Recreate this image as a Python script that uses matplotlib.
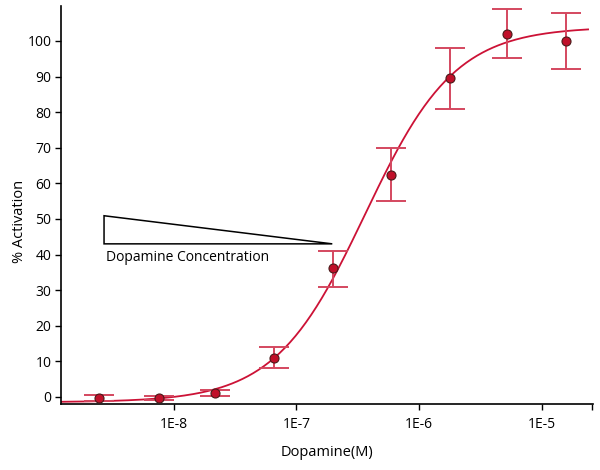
import matplotlib
matplotlib.use("Agg")
import matplotlib.pyplot as plt
import numpy as np

# log10 of dopamine concentration (M) for each measured point
log_conc = [-8.61, -8.12, -7.66, -7.18, -6.70, -6.23, -5.75, -5.28, -4.80]
activation = [-0.3, -0.3, 1.0, 10.8, 36.2, 62.4, 89.6, 102.0, 100.0]
err_low = [0.9, 0.5, 0.8, 2.8, 5.2, 7.3, 8.7, 6.9, 7.9]
err_high = [0.9, 0.5, 0.8, 3.2, 4.9, 7.6, 8.4, 6.9, 7.8]

# fitted sigmoid (Hill) parameters
fit_bottom, fit_top, fit_logec50, fit_hill = -1.5, 104.0, -6.44, 1.18

xticks = [-8, -7, -6, -5]
xticklabels = ["1E-8", "1E-7", "1E-6", "1E-5"]
yticks = list(range(0, 101, 10))

plt.rcParams['font.family'] = ['Open Sans', 'DejaVu Sans']

fig = plt.figure(figsize=(6, 4.7), dpi=100)
ax = fig.add_axes([0.1017, 0.1404, 0.8866, 0.8466])

xlim = (-8.92, -4.58)
xs = np.linspace(xlim[0], -4.62, 300)
fit = fit_bottom + (fit_top - fit_bottom) / (1 + 10 ** ((fit_logec50 - xs) * fit_hill))
ax.plot(xs, fit, color='#cc1236', lw=1.3, zorder=2)

ax.errorbar(log_conc, activation, yerr=[err_low, err_high], fmt='none',
            ecolor='#d4475f', elinewidth=1.4, capsize=10.5, capthick=1.4, zorder=3)
ax.plot(log_conc, activation, 'o', ms=6.5, mfc='#c0102a', mec='#4a1a1a', mew=0.8, zorder=4)

# "Dopamine Concentration" wedge
ax.fill([-8.569, -8.569, -6.707], [50.9, 43.0, 43.0], facecolor='none',
        edgecolor='black', lw=1.1, zorder=1)
ax.text(-8.55, 39.3, "Dopamine Concentration", fontsize=10, va='center', ha='left')

ax.set_xlim(*xlim)
ax.set_ylim(-2.0, 109.8)
ax.set_xticks(xticks)
ax.set_xticklabels(xticklabels)
ax.set_xticks([xlim[1] - 0.005], minor=True)
ax.set_yticks(yticks)
ax.tick_params(labelsize=10, length=4, width=1, pad=3)
ax.tick_params(axis='x', which='both', length=4, width=1, pad=5)

for s in ['top', 'right']:
    ax.spines[s].set_visible(False)
for s in ['left', 'bottom']:
    ax.spines[s].set_linewidth(1.2)

ax.set_xlabel("Dopamine(M)", fontsize=10.5, labelpad=10)
ax.set_ylabel("% Activation", fontsize=10.5)
ax.yaxis.set_label_coords(-0.064, 0.46)

fig.savefig("out.png", dpi=100)
